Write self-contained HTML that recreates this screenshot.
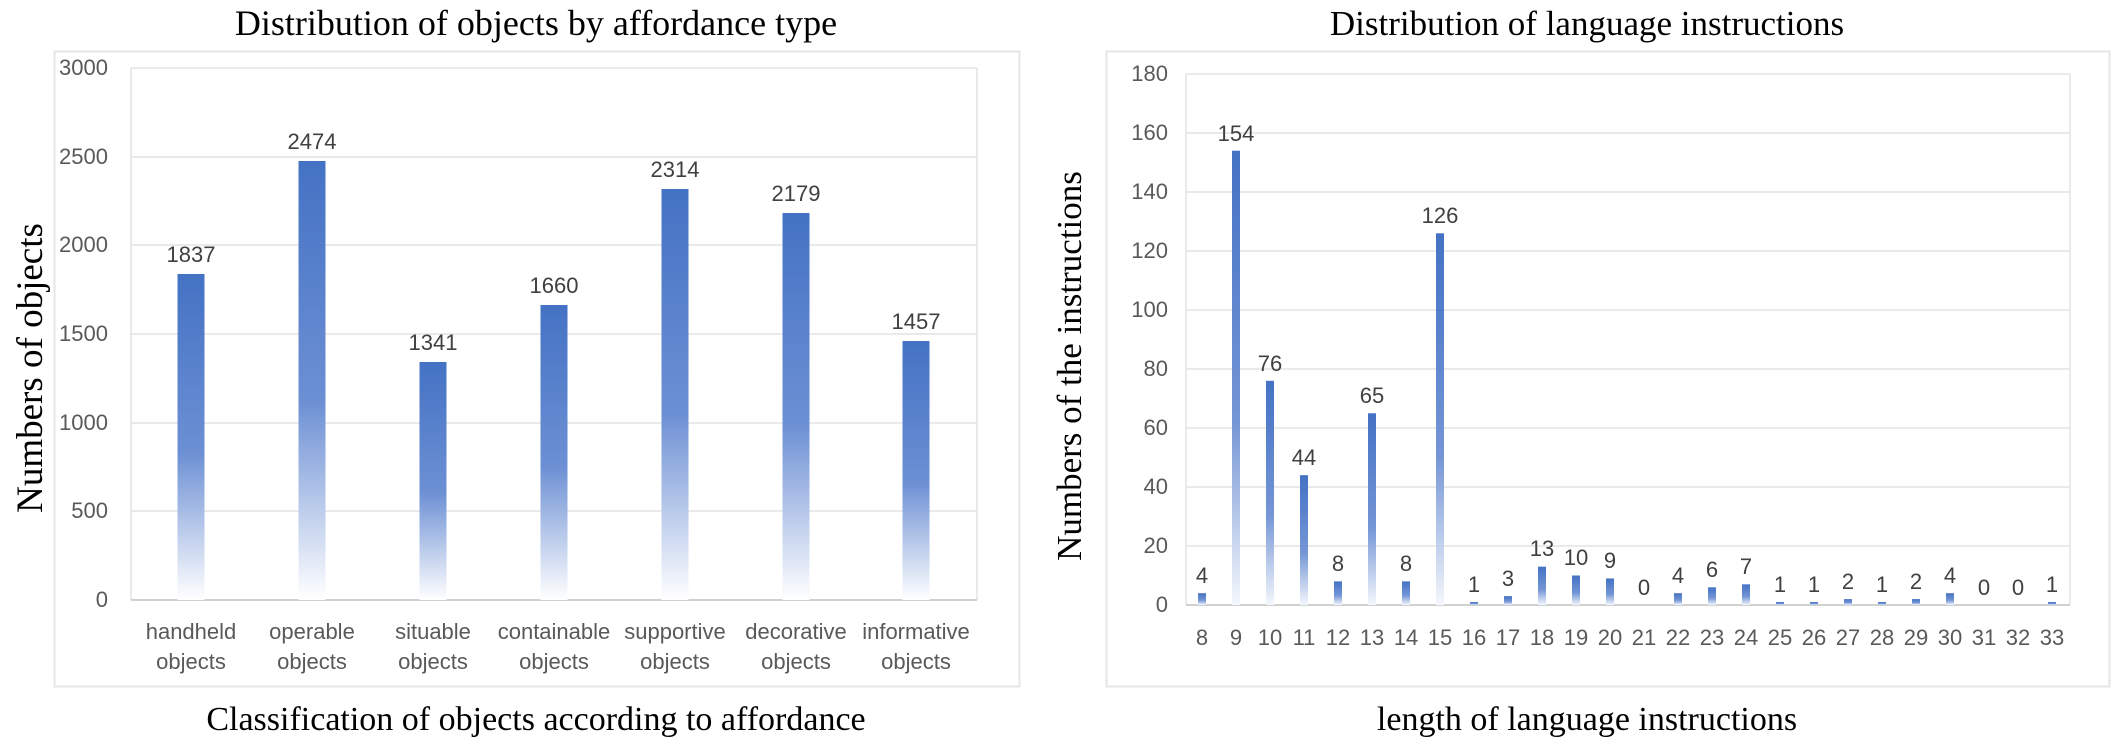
<!DOCTYPE html>
<html><head><meta charset="utf-8"><style>
html,body{margin:0;padding:0;background:#fff;}
svg{display:block}
.t{font-family:"Liberation Serif",serif;fill:#000}
.n{font-family:"Liberation Sans",sans-serif;fill:#595959}
.v{font-family:"Liberation Sans",sans-serif;fill:#404040}
</style></head><body>
<svg width="2127" height="737" viewBox="0 0 2127 737" xmlns="http://www.w3.org/2000/svg">
<defs>
<linearGradient id="g" x1="0" y1="0" x2="0" y2="1">
<stop offset="0" stop-color="#4472c4"/><stop offset="0.55" stop-color="#6d90d4"/><stop offset="1" stop-color="#ffffff"/>
</linearGradient>
<linearGradient id="g2" x1="0" y1="0" x2="0" y2="1">
<stop offset="0" stop-color="#4472c4"/><stop offset="0.6" stop-color="#7596d6"/><stop offset="1" stop-color="#f4f7fc"/>
</linearGradient>
</defs>
<!-- LEFT CHART -->
<text class="t" x="536" y="35" font-size="36" text-anchor="middle">Distribution of objects by affordance type</text>
<rect x="54.5" y="51.5" width="965" height="635" fill="none" stroke="#e6e6e6" stroke-width="2"/>
<g stroke="#e3e3e3" stroke-width="1.5">
<line x1="131" y1="68" x2="977" y2="68"/><line x1="131" y1="157" x2="977" y2="157"/>
<line x1="131" y1="245" x2="977" y2="245"/><line x1="131" y1="334" x2="977" y2="334"/>
<line x1="131" y1="423" x2="977" y2="423"/><line x1="131" y1="511" x2="977" y2="511"/>
<line x1="131" y1="68" x2="131" y2="600"/><line x1="977" y1="68" x2="977" y2="600"/>
</g>
<line x1="131" y1="600" x2="977" y2="600" stroke="#d0d0d0" stroke-width="2"/>
<g class="n" font-size="22" text-anchor="end">
<text x="108" y="75">3000</text><text x="108" y="164">2500</text><text x="108" y="252">2000</text>
<text x="108" y="341">1500</text><text x="108" y="430">1000</text><text x="108" y="518">500</text><text x="108" y="607">0</text>
</g>
<g fill="url(#g)">
<rect x="177.5" y="274" width="27" height="326"/>
<rect x="298.5" y="161" width="27" height="439"/>
<rect x="419.5" y="362" width="27" height="238"/>
<rect x="540.5" y="305" width="27" height="295"/>
<rect x="661.5" y="189" width="27" height="411"/>
<rect x="782.5" y="213" width="27" height="387"/>
<rect x="902.5" y="341" width="27" height="259"/>
</g>
<g class="v" font-size="22" text-anchor="middle">
<text x="191" y="262">1837</text><text x="312" y="149">2474</text><text x="433" y="350">1341</text>
<text x="554" y="293">1660</text><text x="675" y="177">2314</text><text x="796" y="201">2179</text><text x="916" y="329">1457</text>
</g>
<g class="n" font-size="22" text-anchor="middle">
<text x="191" y="639">handheld</text><text x="191" y="669">objects</text>
<text x="312" y="639">operable</text><text x="312" y="669">objects</text>
<text x="433" y="639">situable</text><text x="433" y="669">objects</text>
<text x="554" y="639">containable</text><text x="554" y="669">objects</text>
<text x="675" y="639">supportive</text><text x="675" y="669">objects</text>
<text x="796" y="639">decorative</text><text x="796" y="669">objects</text>
<text x="916" y="639">informative</text><text x="916" y="669">objects</text>
</g>
<text class="t" x="536" y="730" font-size="34" text-anchor="middle">Classification of objects according to affordance</text>
<text class="t" font-size="37" text-anchor="middle" transform="translate(42,368) rotate(-90)">Numbers of objects</text>

<!-- RIGHT CHART -->
<text class="t" x="1587" y="35" font-size="35" text-anchor="middle">Distribution of language instructions</text>
<rect x="1106.5" y="51.5" width="1003" height="635" fill="none" stroke="#e6e6e6" stroke-width="2"/>
<g stroke="#e3e3e3" stroke-width="1.5">
<line x1="1186" y1="74" x2="2070" y2="74"/><line x1="1186" y1="133" x2="2070" y2="133"/>
<line x1="1186" y1="192" x2="2070" y2="192"/><line x1="1186" y1="251" x2="2070" y2="251"/>
<line x1="1186" y1="310" x2="2070" y2="310"/><line x1="1186" y1="369" x2="2070" y2="369"/>
<line x1="1186" y1="428" x2="2070" y2="428"/><line x1="1186" y1="487" x2="2070" y2="487"/>
<line x1="1186" y1="546" x2="2070" y2="546"/>
<line x1="1186" y1="74" x2="1186" y2="605"/><line x1="2070" y1="74" x2="2070" y2="605"/>
</g>
<line x1="1186" y1="605" x2="2070" y2="605" stroke="#d0d0d0" stroke-width="2"/>
<g class="n" font-size="22" text-anchor="end">
<text x="1168" y="81">180</text><text x="1168" y="140">160</text><text x="1168" y="199">140</text>
<text x="1168" y="258">120</text><text x="1168" y="317">100</text><text x="1168" y="376">80</text>
<text x="1168" y="435">60</text><text x="1168" y="494">40</text><text x="1168" y="553">20</text><text x="1168" y="612">0</text>
</g>
<text class="t" font-size="35" text-anchor="middle" transform="translate(1081,366) rotate(-90)">Numbers of the instructions</text>
<text class="t" x="1587" y="730" font-size="34" text-anchor="middle">length of language instructions</text>
<g fill="url(#g2)">
<rect x="1198" y="593.2" width="8" height="11.8"/>
<rect x="1232" y="150.7" width="8" height="454.3"/>
<rect x="1266" y="380.8" width="8" height="224.2"/>
<rect x="1300" y="475.2" width="8" height="129.8"/>
<rect x="1334" y="581.4" width="8" height="23.6"/>
<rect x="1368" y="413.25" width="8" height="191.75"/>
<rect x="1402" y="581.4" width="8" height="23.6"/>
<rect x="1436" y="233.3" width="8" height="371.7"/>
<rect x="1470" y="602" width="8" height="3"/>
<rect x="1504" y="596.15" width="8" height="8.85"/>
<rect x="1538" y="566.65" width="8" height="38.35"/>
<rect x="1572" y="575.5" width="8" height="29.5"/>
<rect x="1606" y="578.45" width="8" height="26.55"/>
<rect x="1674" y="593.2" width="8" height="11.8"/>
<rect x="1708" y="587.3" width="8" height="17.7"/>
<rect x="1742" y="584.35" width="8" height="20.65"/>
<rect x="1776" y="602" width="8" height="3"/>
<rect x="1810" y="602" width="8" height="3"/>
<rect x="1844" y="599.1" width="8" height="5.9"/>
<rect x="1878" y="602" width="8" height="3"/>
<rect x="1912" y="599.1" width="8" height="5.9"/>
<rect x="1946" y="593.2" width="8" height="11.8"/>
<rect x="2048" y="602" width="8" height="3"/>
</g>
<g class="v" font-size="22" text-anchor="middle">
<text x="1202" y="583">4</text><text x="1236" y="141">154</text><text x="1270" y="371">76</text>
<text x="1304" y="465">44</text><text x="1338" y="571">8</text><text x="1372" y="403">65</text>
<text x="1406" y="571">8</text><text x="1440" y="223">126</text><text x="1474" y="592">1</text>
<text x="1508" y="586">3</text><text x="1542" y="556">13</text><text x="1576" y="565">10</text>
<text x="1610" y="568">9</text><text x="1644" y="595">0</text><text x="1678" y="583">4</text>
<text x="1712" y="577">6</text><text x="1746" y="574">7</text><text x="1780" y="592">1</text>
<text x="1814" y="592">1</text><text x="1848" y="589">2</text><text x="1882" y="592">1</text>
<text x="1916" y="589">2</text><text x="1950" y="583">4</text><text x="1984" y="595">0</text>
<text x="2018" y="595">0</text><text x="2052" y="592">1</text>
</g>
<g class="n" font-size="22" text-anchor="middle">
<text x="1202" y="645">8</text><text x="1236" y="645">9</text><text x="1270" y="645">10</text>
<text x="1304" y="645">11</text><text x="1338" y="645">12</text><text x="1372" y="645">13</text>
<text x="1406" y="645">14</text><text x="1440" y="645">15</text><text x="1474" y="645">16</text>
<text x="1508" y="645">17</text><text x="1542" y="645">18</text><text x="1576" y="645">19</text>
<text x="1610" y="645">20</text><text x="1644" y="645">21</text><text x="1678" y="645">22</text>
<text x="1712" y="645">23</text><text x="1746" y="645">24</text><text x="1780" y="645">25</text>
<text x="1814" y="645">26</text><text x="1848" y="645">27</text><text x="1882" y="645">28</text>
<text x="1916" y="645">29</text><text x="1950" y="645">30</text><text x="1984" y="645">31</text>
<text x="2018" y="645">32</text><text x="2052" y="645">33</text>
</g>
</svg>
</body></html>
